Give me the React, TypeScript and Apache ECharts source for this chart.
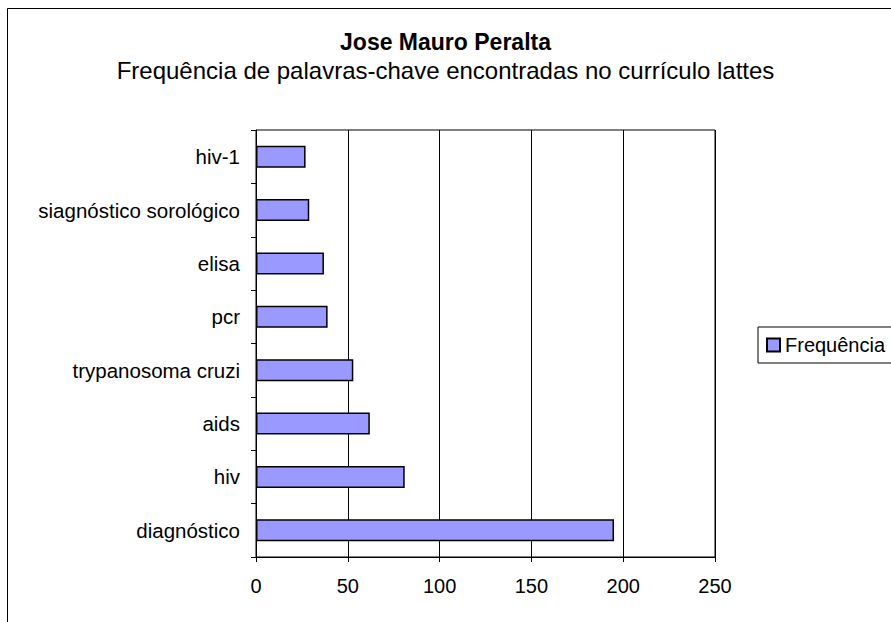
import React, { useEffect, useRef } from "react";
import * as echarts from "echarts";

const categories = [
  "hiv-1",
  "siagnóstico sorológico",
  "elisa",
  "pcr",
  "trypanosoma cruzi",
  "aids",
  "hiv",
  "diagnóstico",
];
const frequencia = [27, 29, 37, 39, 53, 62, 81, 195];
const xTicks = { min: 0, max: 250, interval: 50 };
const seriesName = "Frequência";
const titleText = "Jose Mauro Peralta";
const subtitleText = "Frequência de palavras-chave encontradas no currículo lattes";

export default function App() {
  const ref = useRef<HTMLDivElement>(null);
  useEffect(() => {
    if (!ref.current) return;
    const chart = echarts.init(ref.current, null, { renderer: "svg" });
    const font = "'Liberation Sans', Arial, sans-serif";
    chart.setOption({
      animation: false,
      backgroundColor: "#fff",
      textStyle: { fontFamily: font, color: "#000" },
      title: [
        {
          text: titleText,
          left: "center",
          top: 30,
          padding: 0,
          textStyle: { fontFamily: font, fontSize: 23, fontWeight: "bold", color: "#000" },
        },
        {
          text: subtitleText,
          left: "center",
          top: 58,
          padding: 0,
          textStyle: { fontFamily: font, fontSize: 24, fontWeight: "normal", color: "#000" },
        },
      ],
      graphic: [
        {
          type: "rect",
          shape: { x: 7.5, y: 8.5, width: 1200, height: 1200 },
          style: { fill: "none", stroke: "#000", lineWidth: 1 },
          silent: true,
        },
      ],
      legend: {
        data: [seriesName],
        left: 758,
        top: 327,
        orient: "vertical",
        borderColor: "#000",
        borderWidth: 1,
        padding: [8, 10, 8, 8],
        itemWidth: 13,
        itemHeight: 13,
        itemGap: 6,
        icon: "rect",
        textStyle: { fontFamily: font, fontSize: 20, color: "#000" },
      },
      grid: {
        left: 256,
        right: 176,
        top: 130,
        bottom: 65,
        show: true,
        borderColor: "#000",
        borderWidth: 1,
        containLabel: false,
      },
      xAxis: {
        type: "value",
        min: xTicks.min,
        max: xTicks.max,
        interval: xTicks.interval,
        axisLine: { show: true, lineStyle: { color: "#000", width: 1 } },
        axisTick: { show: true, inside: false, length: 5, lineStyle: { color: "#000" } },
        splitLine: { show: true, lineStyle: { color: "#000", width: 1 } },
        axisLabel: { fontFamily: font, fontSize: 20, color: "#000", margin: 19 },
      },
      yAxis: {
        type: "category",
        data: categories,
        inverse: true,
        axisLine: { show: true, lineStyle: { color: "#000", width: 1 } },
        axisTick: { show: true, inside: false, length: 5, alignWithLabel: false, lineStyle: { color: "#000" } },
        splitLine: { show: false },
        axisLabel: { fontFamily: font, fontSize: 20.5, color: "#000", margin: 16 },
      },
      series: [
        {
          name: seriesName,
          type: "bar",
          data: frequencia,
          barWidth: 22,
          itemStyle: { color: "#9999FF", borderColor: "#000", borderWidth: 1.5 },
        },
      ],
    });
    return () => chart.dispose();
  }, []);
  return (
    <div
      ref={ref}
      style={{ position: "fixed", left: 0, top: 0, width: 891, height: 622 }}
    />
  );
}
